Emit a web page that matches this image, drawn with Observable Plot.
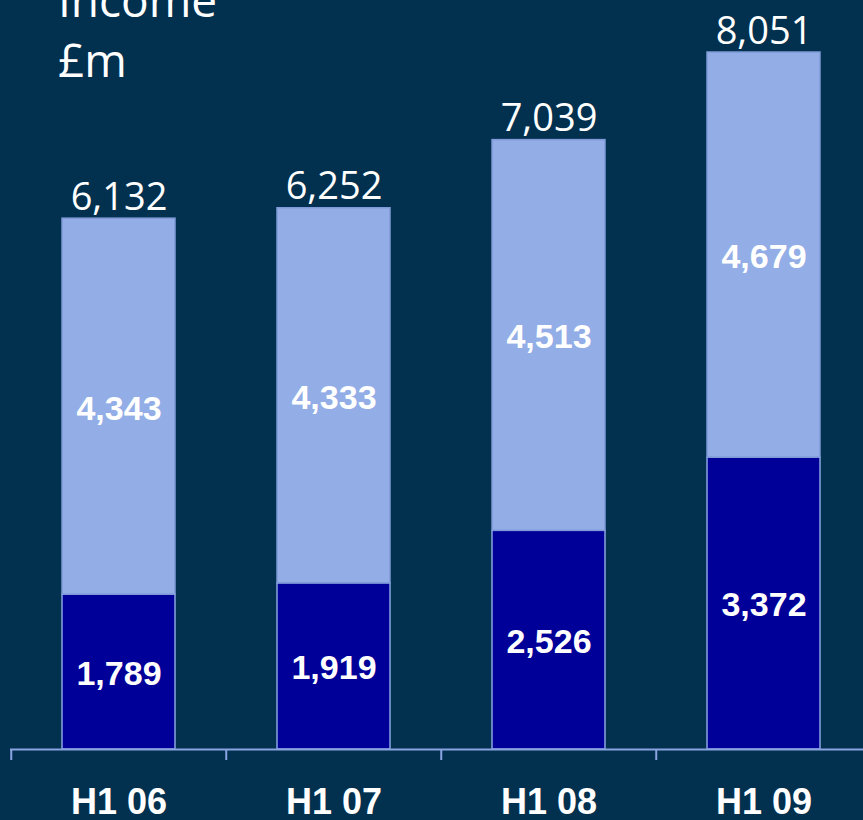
<!DOCTYPE html>
<html>
<head>
<meta charset="utf-8">
<script src="https://cdn.jsdelivr.net/npm/d3@7"></script>
<script src="https://cdn.jsdelivr.net/npm/@observablehq/plot@0.6"></script>
<style>
  html, body { margin: 0; padding: 0; background: #02304f; overflow: hidden; }
  #wrap { position: relative; width: 863px; height: 820px; }
  #title { position: absolute; left: 58px; top: -31px; color: #ffffff;
           font-family: "Open Sans", sans-serif; font-size: 46px; line-height: 60px; }
  #chart { position: absolute; left: 0; top: 0; }
</style>
</head>
<body>
<div id="wrap">
  <div id="chart"></div>
  <div id="title">Income<br>£m</div>
</div>
<script>
const categories = ["H1 06", "H1 07", "H1 08", "H1 09"];
const lowerValues = [1789, 1919, 2526, 3372];
const upperValues = [4343, 4333, 4513, 4679];
const totals = [6132, 6252, 7039, 8051];
const seriesNames = ["lower", "upper"];

const rows = [];
categories.forEach((c, i) => {
  rows.push({cat: c, series: "lower", value: lowerValues[i]});
  rows.push({cat: c, series: "upper", value: upperValues[i]});
});
const fmt = d3.format(",");
const xRange = [10, 872];
const step = (xRange[1] - xRange[0]) / categories.length;

const plot = Plot.plot({
  width: 863,
  height: 820,
  marginLeft: 10,
  marginRight: 0,
  marginTop: 0,
  marginBottom: 71,
  style: {background: "#02304f", overflow: "visible"},
  x: {domain: categories, range: xRange, paddingInner: 0.476, paddingOuter: 0.238, axis: null, label: null},
  y: {domain: [0, d3.max(totals)], range: [749, 52], axis: null},
  color: {domain: seriesNames, range: ["#000099", "#93ade6"]},
  marks: [
    Plot.barY(rows, {x: "cat", y: "value", fill: "series",
      stroke: d => d.series === "lower" ? "#8aa4e2" : "#7f9ad8", strokeWidth: 1.5}),
    Plot.ruleY([0], {stroke: "#8aa4e2", strokeWidth: 2}),
    Plot.axisX({ticks: categories, tickSize: 11, tickFormat: () => "", label: null,
      stroke: "#8aa4e2", strokeWidth: 2, dx: -step / 2}),
    Plot.text(rows, Plot.stackY({x: "cat", y: "value", text: d => fmt(d.value),
      fill: "white", fontFamily: "Liberation Sans, Arial, sans-serif", fontWeight: "bold",
      fontSize: 34, letterSpacing: "-1px", dy: 2})),
    Plot.text(categories, {x: d => d, y: (d, i) => totals[i], text: (d, i) => fmt(totals[i]),
      fill: "white", fontFamily: "Open Sans, sans-serif", fontSize: 38,
      lineAnchor: "bottom", dy: -9}),
    Plot.text(categories, {x: d => d, y: () => 0, text: d => d,
      fill: "white", fontFamily: "Liberation Sans, Arial, sans-serif", fontWeight: "bold",
      fontSize: 36, letterSpacing: "-1.5px", lineAnchor: "bottom", dy: 64})
  ]
});
document.getElementById("chart").appendChild(plot);
</script>
</body>
</html>
